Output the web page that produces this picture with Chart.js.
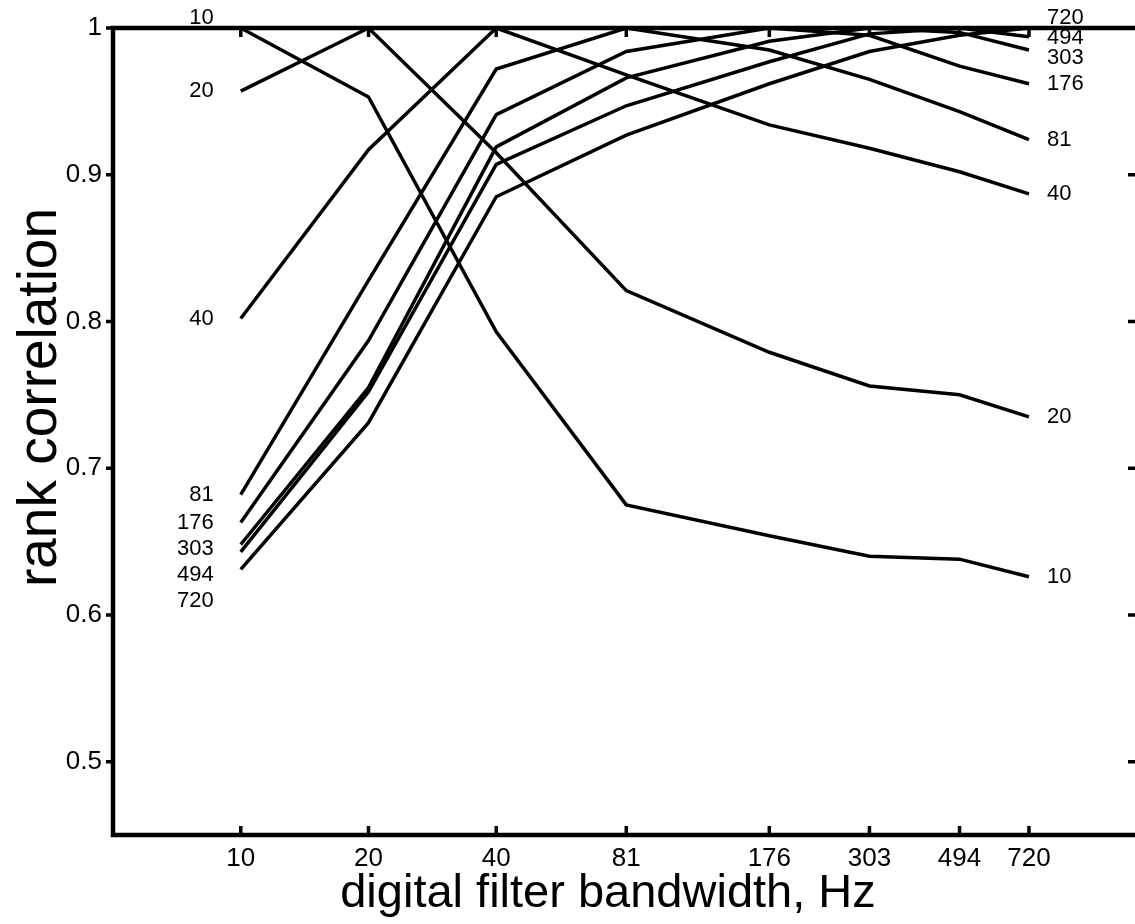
<!DOCTYPE html>
<html>
<head>
<meta charset="utf-8">
<script src="https://cdn.jsdelivr.net/npm/chart.js@4.4.1/dist/chart.umd.min.js"></script>
<style>
  html, body { margin: 0; padding: 0; background: #fff; }
  canvas { display: block; }
</style>
</head>
<body>
<canvas id="chart" width="1135" height="924"></canvas>
<script>
// filter bandwidths (Hz), used as both the x positions and the series names
const bandwidths = [10, 20, 40, 81, 176, 303, 494, 720];
const yTicks = [0.5, 0.6, 0.7, 0.8, 0.9, 1];

// rank correlation of each bandwidth against every other one
const corr10  = [1.000, 0.953, 0.793, 0.675, 0.654, 0.640, 0.638, 0.626];
const corr20  = [0.957, 1.000, 0.915, 0.821, 0.779, 0.756, 0.750, 0.735];
const corr40  = [0.802, 0.917, 1.000, 0.968, 0.934, 0.918, 0.902, 0.887];
const corr81  = [0.682, 0.828, 0.972, 1.000, 0.985, 0.965, 0.943, 0.924];
const corr176 = [0.663, 0.787, 0.941, 0.984, 1.000, 0.995, 0.974, 0.962];
const corr303 = [0.648, 0.755, 0.919, 0.966, 0.991, 1.000, 0.997, 0.985];
const corr494 = [0.643, 0.752, 0.907, 0.947, 0.977, 0.996, 1.000, 0.994];
const corr720 = [0.631, 0.731, 0.885, 0.927, 0.962, 0.984, 0.995, 1.000];

const rows = [corr10, corr20, corr40, corr81, corr176, corr303, corr494, corr720];

const xTitle = 'digital filter bandwidth, Hz';
const yTitle = 'rank correlation';

const FONT = '"Liberation Sans", Arial, Helvetica, sans-serif';
Chart.defaults.font.family = FONT;
Chart.defaults.color = '#000';

function makeDataset(name, values) {
  return {
    label: String(name),
    data: values.map((v, i) => ({ x: bandwidths[i], y: v })),
    borderColor: '#000',
    borderWidth: 3.5,
    pointRadius: 0,
    fill: false,
    tension: 0,
    clip: false
  };
}

// axes box: left, top and bottom lines (right one sits past the edge), inward ticks
const framePlugin = {
  id: 'frame',
  afterDatasetsDraw(chart) {
    const { ctx, chartArea: a, scales: { x, y } } = chart;
    const w = chart.width;
    ctx.save();
    ctx.strokeStyle = '#000';
    ctx.lineWidth = 4.5;
    ctx.beginPath();
    ctx.moveTo(w, a.top); ctx.lineTo(a.left, a.top);
    ctx.lineTo(a.left, a.bottom); ctx.lineTo(w, a.bottom);
    ctx.stroke();
    ctx.lineWidth = 3.5;
    ctx.beginPath();
    bandwidths.forEach(v => {
      const px = x.getPixelForValue(v);
      ctx.moveTo(px, a.bottom); ctx.lineTo(px, a.bottom - 9);
      ctx.moveTo(px, a.top); ctx.lineTo(px, a.top + 9);
    });
    yTicks.forEach(v => {
      const py = y.getPixelForValue(v);
      ctx.moveTo(a.left, py); ctx.lineTo(a.left - 7, py);
      ctx.moveTo(w, py); ctx.lineTo(w - 7, py);
    });
    ctx.stroke();

    // axis titles
    ctx.fillStyle = '#000';
    ctx.textAlign = 'center';
    ctx.textBaseline = 'alphabetic';
    ctx.font = '47px ' + FONT;
    ctx.fillText(xTitle, (a.left + a.right) / 2 - 16, 907);
    ctx.translate(56, (a.top + a.bottom) / 2 - 34);
    ctx.rotate(-Math.PI / 2);
    ctx.font = '55px ' + FONT;
    ctx.fillText(yTitle, 0, 0);
    ctx.restore();
  }
};

// series names at both ends of every line, nudged apart so they don't collide
function spread(items, gap) {
  items.sort((p, q) => p.y - q.y);
  for (let i = 1; i < items.length; i++) {
    items[i].y = Math.max(items[i].y, items[i - 1].y + gap);
  }
  return items;
}

const endLabelPlugin = {
  id: 'endLabels',
  afterDatasetsDraw(chart) {
    const { ctx } = chart;
    const left = [], right = [];
    chart.data.datasets.forEach((ds, i) => {
      const pts = chart.getDatasetMeta(i).data;
      const first = pts[0], last = pts[pts.length - 1];
      const lift = (v) => v >= 0.999 ? -10 : 0;
      left.push({ text: ds.label, x: first.x, y: first.y + lift(ds.data[0].y) });
      right.push({ text: ds.label, x: last.x, y: last.y + lift(ds.data[ds.data.length - 1].y) });
    });
    ctx.save();
    ctx.fillStyle = '#000';
    ctx.font = '22px ' + FONT;
    ctx.textBaseline = 'middle';
    ctx.textAlign = 'right';
    spread(left, 26).forEach(p => ctx.fillText(p.text, p.x - 27, p.y));
    ctx.textAlign = 'left';
    spread(right, 20).forEach(p => ctx.fillText(p.text, p.x + 18, p.y));
    ctx.restore();
  }
};

new Chart(document.getElementById('chart'), {
  type: 'line',
  data: {
    datasets: bandwidths.map((b, i) => makeDataset(b, rows[i]))
  },
  options: {
    responsive: false,
    animation: false,
    layout: { padding: { top: 28, right: -3, left: 0, bottom: 0 } },
    plugins: {
      legend: { display: false },
      tooltip: { enabled: false }
    },
    scales: {
      x: {
        type: 'logarithmic',
        min: 5,
        max: 1280,
        grid: { display: false, drawTicks: false },
        border: { display: false },
        afterBuildTicks: (scale) => { scale.ticks = bandwidths.map(v => ({ value: v })); },
        afterFit: (scale) => { scale.height = 89; },
        ticks: {
          autoSkip: false,
          maxRotation: 0,
          padding: 8,
          font: { size: 26 },
          callback: (v) => String(v)
        },
        title: { display: false }
      },
      y: {
        type: 'linear',
        min: 0.45,
        max: 1,
        grid: { display: false, drawTicks: false },
        border: { display: false },
        afterBuildTicks: (scale) => { scale.ticks = yTicks.map(v => ({ value: v })); },
        afterFit: (scale) => { scale.width = 113; },
        ticks: {
          padding: 11,
          font: { size: 26 },
          callback: (v) => v === 1 ? '1' : v.toFixed(1)
        },
        title: { display: false }
      }
    }
  },
  plugins: [framePlugin, endLabelPlugin]
});
</script>
</body>
</html>
